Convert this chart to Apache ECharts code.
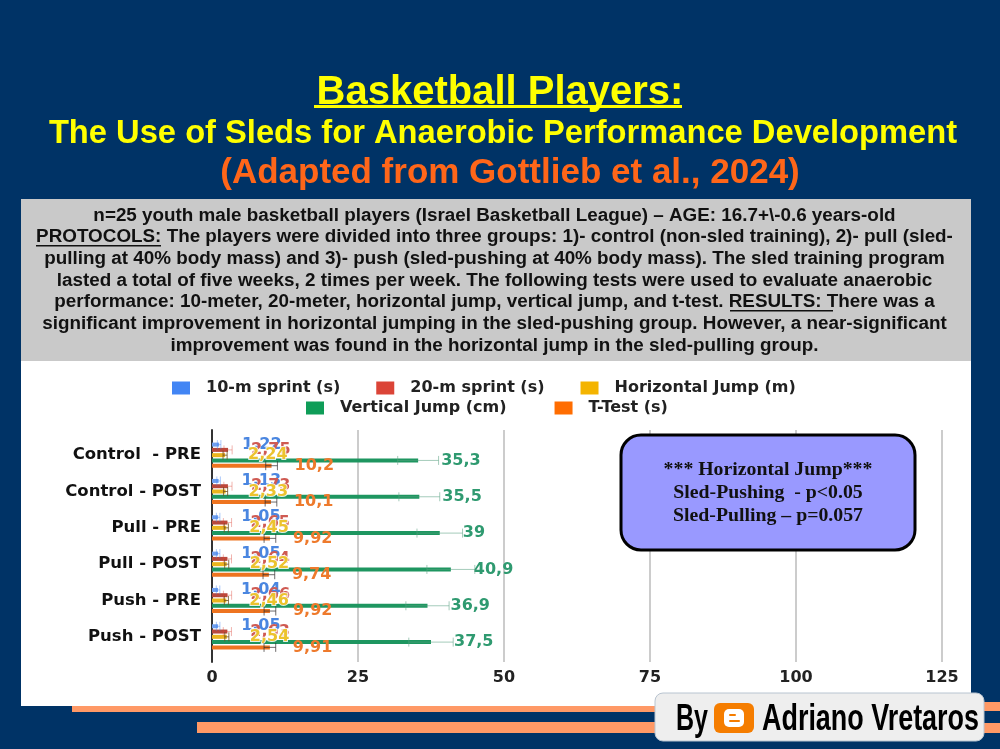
<!DOCTYPE html>
<html><head><meta charset="utf-8">
<style>html,body{margin:0;padding:0;background:#003366}#c{width:1000px;height:749px}</style>
<script src="https://cdn.jsdelivr.net/npm/echarts@6/dist/echarts.min.js"></script>
</head><body><div id="c"></div>
<script>
const groups = ['Control  - PRE','Control - POST','Pull - PRE','Pull - POST','Push - PRE','Push - POST'];
const tickValues = [0,25,50,75,100,125];
const sprint10 = [1.22,1.13,1.05,1.05,1.04,1.05];
const sprint20 = [2.75,2.73,2.65,2.64,2.66,2.63];
const hJump = [2.24,2.33,2.45,2.52,2.46,2.54];
const vJump = [35.3,35.5,39,40.9,36.9,37.5];
const tTest = [10.2,10.1,9.92,9.74,9.92,9.91];
const errSprint10 = [0.3,0.3,0.3,0.3,0.3,0.3];
const errSprint20 = [0.7,0.7,0.7,0.7,0.7,0.7];
const errHJump = [0.35,0.35,0.35,0.35,0.35,0.35];
const errVJump = [3.5,3.5,3.9,4.1,3.7,3.8];
const errTTest = [1,1,1,1,1,1];
const names = ['10-m sprint (s)','20-m sprint (s)','Horizontal Jump (m)','Vertical Jump (cm)','T-Test (s)'];
const descLines = [
 'n=25 youth male basketball players (Israel Basketball League) – AGE: 16.7+\\-0.6 years-old',
 'PROTOCOLS: The players were divided into three groups: 1)- control (non-sled training), 2)- pull (sled-',
 'pulling at 40% body mass) and 3)- push (sled-pushing at 40% body mass). The sled training program',
 'lasted a total of five weeks, 2 times per week. The following tests were used to evaluate anaerobic',
 'performance: 10-meter, 20-meter, horizontal jump, vertical jump, and t-test. RESULTS: There was a',
 'significant improvement in horizontal jumping in the sled-pushing group. However, a near-significant',
 'improvement was found in the horizontal jump in the sled-pulling group.'
];
const boxLines = ['*** Horizontal Jump***','Sled-Pushing  - p<0.05','Sled-Pulling – p=0.057'];

const colors = ['#4285f4','#db4437','#f4b400','#0f9d58','#ff6d01'];
const labelColors = ['#4a86e0','#cf5a52','#ecc32e','#2f9a70','#ee7a2c'];
const whisk = ['rgba(66,133,244,.45)','rgba(219,68,55,.4)','rgba(110,80,30,.8)','rgba(90,160,130,.55)','rgba(50,45,45,.7)'];
const LF = '"DejaVu Sans"';
const values = [sprint10,sprint20,hJump,vJump,tTest];
const errs = [errSprint10,errSprint20,errHJump,errVJump,errTTest];

const barSeries = values.map((v,i)=>({
  name:names[i], type:'bar', xAxisIndex:1, yAxisIndex:1, data:v, barWidth:4, barGap:'32%', z:3,
  itemStyle:{color:i===3?'#1e9660':i===4?'#ee7420':i===1?'#b8483c':i===2?'#eab51e':'#6f9fee'},
  label:{show:true, position:'right', distance:23, color:labelColors[i],
    fontFamily:LF, fontWeight:'bold', fontSize:16,
    textBorderColor:i===2?'rgba(255,255,255,.85)':'transparent', textBorderWidth:i===2?2:0,
    formatter:p=>String(p.value).replace('.',',')}
}));
const errSeries = values.map((v,i)=>({
  type:'custom', xAxisIndex:1, yAxisIndex:1, z:4, silent:true,
  data:v.map((val,k)=>[k,val-errs[i][k],val+errs[i][k]]),
  encode:{x:[1,2],y:0},
  renderItem:(params,api)=>{
    const band = api.size([0,1])[1];
    const off = (i-2)*band*0.145;
    const lo = api.coord([api.value(1),api.value(0)]);
    const hi = api.coord([api.value(2),api.value(0)]);
    const y = lo[1]+off, h = 4.5;
    const st = {stroke:whisk[i],lineWidth:1,fill:null};
    return {type:'group',children:[
      {type:'line',shape:{x1:lo[0],y1:y,x2:hi[0],y2:y},style:st},
      {type:'line',shape:{x1:lo[0],y1:y-h,x2:lo[0],y2:y+h},style:st},
      {type:'line',shape:{x1:hi[0],y1:y-h,x2:hi[0],y2:y+h},style:st}
    ]};
  }
}));

const meas = document.createElement('canvas').getContext('2d');
const fitScale = (t,font,w)=>{meas.font=font;return w/meas.measureText(t).width;};
const g = [];
const rect = (x,y,w,h,fill,z,r)=>g.push({type:'rect',z:z,silent:true,shape:{x,y,width:w,height:h,r:r||0},style:{fill}});
rect(21,199,950,162,'#c9c9c9',-10);
rect(21,361,950,345,'#ffffff',-10);
rect(72,706,600,6,'#ff9966',-9);
rect(197,722,600,11,'#ff9966',-9);
rect(980,702,20,9,'#ff9966',-9);
rect(980,723,20,10,'#ff9966',-9);
rect(314,105,368,3,'#ffff00',5);
descLines.forEach((t,i)=>{
  g.push({type:'text',z:5,silent:true,x:494.5,y:215.5+i*21.65,style:{text:t,fill:'#111',align:'center',verticalAlign:'middle',
    font:'bold 18.85px "Liberation Sans"'}});
});
rect(36,245,125,1.5,'#111',5);
rect(730,310,103,1.5,'#111',5);
g.push({type:'rect',z:50,silent:true,shape:{x:621,y:435,width:294,height:115,r:20},
  style:{fill:'#9999ff',stroke:'#000',lineWidth:3}});
boxLines.forEach((t,i)=>{
  g.push({type:'text',z:51,silent:true,x:768,y:470+i*23,style:{text:t,fill:'#111',align:'center',verticalAlign:'middle',
    font:'bold 19.8px "Liberation Serif"',shadowColor:'rgba(0,0,0,.35)',shadowBlur:1,shadowOffsetX:1,shadowOffsetY:1}});
});
const badgeFont = 'bold 36px "Liberation Sans"';
g.push({type:'rect',z:60,silent:true,shape:{x:655,y:693,width:329,height:48,r:8},style:{fill:'#eeeeee',stroke:'#b8c4d0',lineWidth:1}});
g.push({type:'text',z:61,silent:true,x:676,y:720,scaleX:fitScale('By',badgeFont,32),style:{text:'By',fill:'#000',verticalAlign:'middle',font:badgeFont}});
g.push({type:'rect',z:61,silent:true,shape:{x:714,y:703,width:40,height:30,r:6},style:{fill:'#f57d00'}});
g.push({type:'rect',z:62,silent:true,shape:{x:724,y:709,width:20,height:18,r:5},style:{fill:'#ffffff'}});
g.push({type:'rect',z:63,silent:true,shape:{x:729,y:714,width:7,height:2,r:1},style:{fill:'#f57d00'}});
g.push({type:'rect',z:63,silent:true,shape:{x:729,y:720,width:11,height:2,r:1},style:{fill:'#f57d00'}});
g.push({type:'text',z:61,silent:true,x:762,y:720,scaleX:fitScale('Adriano Vretaros',badgeFont,217),style:{text:'Adriano Vretaros',fill:'#000',verticalAlign:'middle',font:badgeFont}});

const legendText = {color:'#222',fontFamily:LF,fontWeight:'bold',fontSize:16,padding:[0,0,0,11]};
const legendData = names.map((n,i)=>({name:n,itemStyle:{color:colors[i]}}));
const chart = echarts.init(document.getElementById('c'),null,{renderer:'canvas'});
chart.setOption({
  animation:false,
  backgroundColor:'#003366',
  color:colors,
  title:[
    {text:'Basketball Players:',left:'center',top:68,textStyle:{color:'#ffff00',fontFamily:'"Liberation Sans"',fontWeight:'bold',fontSize:40}},
    {text:'The Use of Sleds for Anaerobic Performance Development',left:498,top:112,textAlign:'center',textStyle:{color:'#ffff00',fontFamily:'"Liberation Sans"',fontWeight:'bold',fontSize:32.7}},
    {text:'(Adapted from Gottlieb et al., 2024)',left:505,top:151,textAlign:'center',textStyle:{color:'#ff6619',fontFamily:'"Liberation Sans"',fontWeight:'bold',fontSize:35}}
  ],
  legend:[
    {data:legendData.slice(0,3),left:172,top:380,padding:0,itemWidth:18,itemHeight:13,itemGap:36,icon:'rect',textStyle:legendText,selectedMode:false},
    {data:legendData.slice(3),left:306,top:400,padding:0,itemWidth:18,itemHeight:13,itemGap:48,icon:'rect',textStyle:legendText,selectedMode:false}
  ],
  grid:[
    {left:212,width:730,top:430,height:232,containLabel:false},
    {left:212,width:730,top:437,height:218,containLabel:false}
  ],
  xAxis:[
    {gridIndex:0,type:'value',min:0,max:125,interval:25,
      axisLine:{show:false},axisTick:{show:false},
      splitLine:{show:true,lineStyle:{color:'#cccccc',width:2}},
      axisLabel:{margin:8,color:'#222',fontFamily:LF,fontWeight:'bold',fontSize:16,
        formatter:v=>tickValues.includes(v)?String(v):''}},
    {gridIndex:1,type:'value',min:0,max:125,show:false}
  ],
  yAxis:[
    {gridIndex:0,type:'value',min:0,max:1,position:'left',splitLine:{show:false},axisTick:{show:false},axisLabel:{show:false},
      axisLine:{show:true,onZero:false,lineStyle:{color:'#333',width:2}}},
    {gridIndex:1,type:'category',inverse:true,data:groups,
      axisLine:{show:false},axisTick:{show:false},
      axisLabel:{margin:11,color:'#111',fontFamily:LF,fontWeight:'bold',fontSize:16.5}}
  ],
  series:[...barSeries,...errSeries],
  graphic:{elements:g}
});
</script></body></html>
